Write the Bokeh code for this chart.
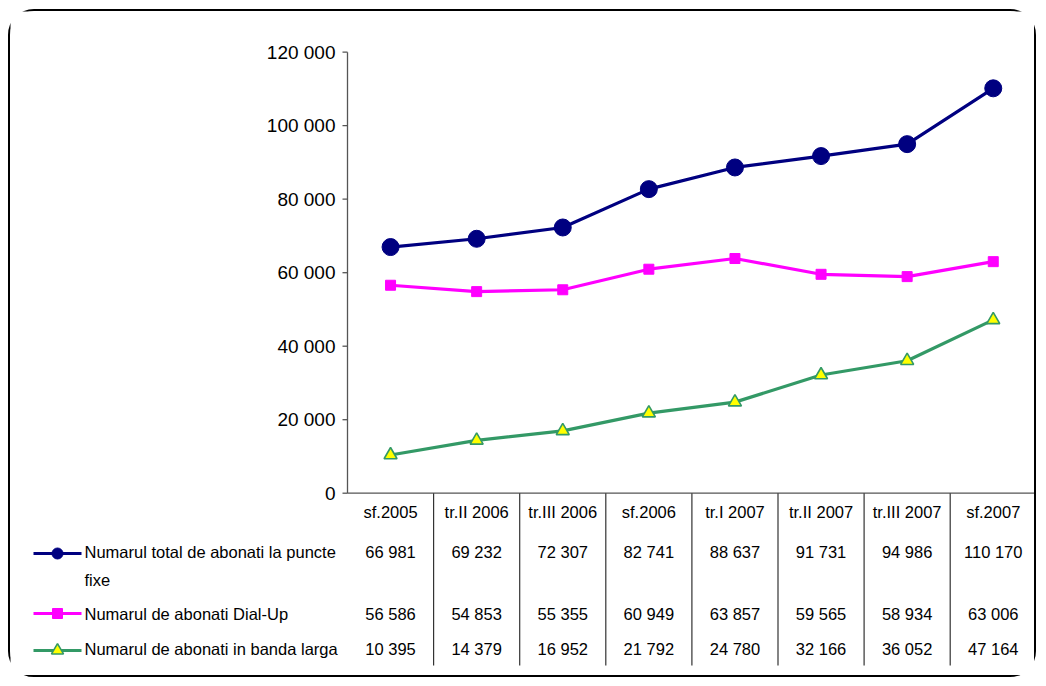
from bokeh.plotting import figure
from bokeh.models import Range1d
from bokeh.core.properties import value
from bokeh.embed import file_html
from bokeh.resources import INLINE

# ---- data ----
categories = ["sf.2005", "tr.II 2006", "tr.III 2006", "sf.2006",
              "tr.I 2007", "tr.II 2007", "tr.III 2007", "sf.2007"]
total = [66981, 69232, 72307, 82741, 88637, 91731, 94986, 110170]
dialup = [56586, 54853, 55355, 60949, 63857, 59565, 58934, 63006]
broadband = [10395, 14379, 16952, 21792, 24780, 32166, 36052, 47164]
y_ticks = [0, 20000, 40000, 60000, 80000, 100000, 120000]
series_names = ["Numarul total de abonati la puncte\nfixe",
                "Numarul de abonati Dial-Up",
                "Numarul de abonati in banda larga"]

def fmt(v):
    return f"{v:,}".replace(",", " ")

FONT = value("Liberation Sans")

# ---- layout geometry (page pixels -> data) ----
W, H = 1028, 668
OX, OY = 10, 11
XPX, X0 = 86.1, 347.0
YPX, Y0 = 20000 / 73.5, 492.7

def px(xp):
    return (xp - X0) / XPX

def py(yp):
    return (Y0 - yp) * YPX

p = figure(width=W, height=H, output_backend="svg", toolbar_location=None,
           x_range=Range1d((OX - X0) / XPX, (OX + W - X0) / XPX),
           y_range=Range1d((Y0 - (OY + H)) * YPX, (Y0 - OY) * YPX),
           min_border=0, x_axis_type=None, y_axis_type=None)
p.grid.visible = False
p.outline_line_color = None
p.background_fill_color = "white"
p.border_fill_color = "white"
p.styles = {"border": "2px solid #000", "border-radius": "26px",
            "margin": "9px 0 0 8px"}

n = len(categories)
xc = [i + 0.5 for i in range(n)]

# axes
p.segment(x0=[0], y0=[0], x1=[0], y1=[max(y_ticks)], line_color="#555555", line_width=1.3)
p.segment(x0=[0], y0=[0], x1=[n], y1=[0], line_color="#555555", line_width=1.3)
p.segment(x0=[px(342)] * len(y_ticks), y0=y_ticks, x1=[0] * len(y_ticks), y1=y_ticks,
          line_color="#555555", line_width=1.3)
p.text(x=[px(335)] * len(y_ticks), y=y_ticks, text=[fmt(t) for t in y_ticks],
       text_align="right", text_baseline="middle", text_font=FONT,
       text_font_size="19px", text_color="#000000")

# table vertical lines
p.segment(x0=list(range(1, n)), y0=[0] * (n - 1), x1=list(range(1, n)), y1=[py(665)] * (n - 1),
          line_color="#333333", line_width=1.2)

# category labels
p.text(x=xc, y=[py(511)] * n, text=categories, text_align="center", text_baseline="middle",
       text_font=FONT, text_font_size="16.5px", text_color="#000000")

# series
colors = ["#000080", "#FF00FF", "#339966"]
data = [total, dialup, broadband]
row_y = [py(551), py(613), py(648)]

p.line(xc, total, line_color=colors[0], line_width=3.2)
p.scatter(xc, total, marker="circle", size=17, fill_color=colors[0], line_color=colors[0])
p.line(xc, dialup, line_color=colors[1], line_width=3.2)
p.scatter(xc, dialup, marker="square", size=10, fill_color=colors[1], line_color=colors[1])
p.line(xc, broadband, line_color=colors[2], line_width=3.2)
p.scatter(xc, broadband, marker="triangle", size=13, fill_color="#FFFF00",
          line_color=colors[2], line_width=1.6)

# table values
for vals, ry in zip(data, row_y):
    p.text(x=xc, y=[ry] * n, text=[fmt(v) for v in vals], text_align="center",
           text_baseline="middle", text_font=FONT, text_font_size="16.5px",
           text_color="#000000")

# legend keys
key_y = [py(553), py(613), py(650)]
for c, ky in zip(colors, key_y):
    p.segment(x0=[px(33)], y0=[ky], x1=[px(81)], y1=[ky], line_color=c, line_width=3.2)
p.scatter([px(57)], [key_y[0]], marker="circle", size=11, fill_color=colors[0], line_color=colors[0])
p.scatter([px(57)], [key_y[1]], marker="square", size=10, fill_color=colors[1], line_color=colors[1])
p.scatter([px(57)], [key_y[2]], marker="triangle", size=12, fill_color="#FFFF00",
          line_color=colors[2], line_width=1.6)

# legend texts
for name, ry in zip(series_names, row_y):
    lines = name.split("\n")
    for k, ln in enumerate(lines):
        p.text(x=[px(84)], y=[ry + k * (-28 * YPX)], text=[ln], text_align="left",
               text_baseline="middle", text_font=FONT, text_font_size="16.5px",
               text_color="#000000")

open("out.html", "w").write(file_html(p, INLINE))
